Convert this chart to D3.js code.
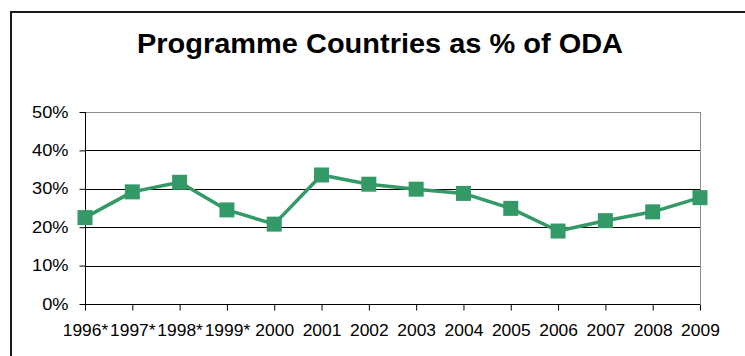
<!DOCTYPE html>
<html>
<head>
<meta charset="utf-8">
<script src="https://cdn.jsdelivr.net/npm/d3@7/dist/d3.min.js"></script>
<style>
  html, body { margin: 0; padding: 0; background: #fff; }
  svg { display: block; font-family: "Liberation Sans", Arial, sans-serif; }
</style>
</head>
<body>
<svg id="chart" width="745" height="356"></svg>
<script>
// Share of ODA going to programme countries, by year
const years = ["1996*", "1997*", "1998*", "1999*", "2000", "2001", "2002", "2003", "2004", "2005", "2006", "2007", "2008", "2009"];
const shares = [22.5, 29.2, 31.7, 24.5, 20.8, 33.6, 31.2, 29.9, 28.8, 24.9, 19.0, 21.7, 24.0, 27.7];
const yTicks = [0, 10, 20, 30, 40, 50];

const svg = d3.select("#chart");
const W = 745, H = 356;
const plot = { left: 85, right: 700, top: 112, bottom: 304 };
const green = "#339966";
const fontFamily = "'Liberation Sans', Arial, sans-serif";
const stretchY = 1.14;   // axis labels are set slightly wide
const stretchX = 1.09;

// Frame around the chart area (left and top edges)
svg.append("path")
  .attr("d", `M11,${H} V12 H${W}`)
  .attr("fill", "none")
  .attr("stroke", "#1a1a1a")
  .attr("stroke-width", 2);

// Title
svg.append("text")
  .attr("x", 137)
  .attr("y", 53)
  .attr("font-size", 27)
  .attr("font-weight", "bold")
  .attr("font-family", fontFamily)
  .attr("textLength", 486)
  .attr("lengthAdjust", "spacingAndGlyphs")
  .attr("fill", "#000")
  .text("Programme Countries as % of ODA");

const x = d3.scalePoint().domain(years).range([plot.left, plot.right]);
const y = d3.scaleLinear().domain([0, 50]).range([plot.bottom, plot.top]);

// Horizontal gridlines
svg.append("g")
  .selectAll("line")
  .data(yTicks.filter(d => d > 0))
  .join("line")
  .attr("x1", plot.left)
  .attr("x2", plot.right)
  .attr("y1", d => Math.round(y(d)) + 0.5)
  .attr("y2", d => Math.round(y(d)) + 0.5)
  .attr("stroke", d => d === 50 ? "#8c8c8c" : "#000")
  .attr("stroke-width", 1);

// Right edge of plot area
svg.append("line")
  .attr("x1", plot.right + 0.5).attr("x2", plot.right + 0.5)
  .attr("y1", plot.top).attr("y2", plot.bottom)
  .attr("stroke", "#8c8c8c");

// Y axis
const yAxis = svg.append("g")
  .attr("transform", `translate(${plot.left + 0.5},0)`)
  .call(d3.axisLeft(y).tickValues(yTicks).tickFormat(d => d + "%").tickSize(6));
yAxis.select(".domain").attr("stroke", "#000").attr("d", `M0,${plot.top}V${plot.bottom}`);
yAxis.selectAll("line").attr("stroke", "#000");
yAxis.selectAll("text")
  .attr("font-size", 16)
  .attr("font-family", fontFamily)
  .attr("fill", "#000")
  .attr("x", -17 / stretchY)
  .attr("transform", `scale(${stretchY},1)`);

// X axis
const xAxis = svg.append("g")
  .attr("transform", `translate(0,${Math.round(plot.bottom) + 0.5})`)
  .call(d3.axisBottom(x).tickSize(6));
xAxis.select(".domain").attr("stroke", "#000").attr("d", `M${plot.left},0H${plot.right}`);
xAxis.selectAll("line").attr("stroke", "#000");
xAxis.selectAll("text")
  .attr("font-size", 16)
  .attr("font-family", fontFamily)
  .attr("fill", "#000")
  .attr("y", 32)
  .attr("dy", 0)
  .attr("transform", `scale(${stretchX},1)`);

// Series line
svg.append("path")
  .datum(shares)
  .attr("fill", "none")
  .attr("stroke", green)
  .attr("stroke-width", 3.5)
  .attr("stroke-linejoin", "round")
  .attr("d", d3.line().x((d, i) => x(years[i])).y(d => y(d)));

// Square markers
const m = 15;
svg.append("g")
  .selectAll("rect")
  .data(shares)
  .join("rect")
  .attr("x", (d, i) => x(years[i]) - m / 2)
  .attr("y", d => y(d) - m / 2)
  .attr("width", m)
  .attr("height", m)
  .attr("fill", green);
</script>
</body>
</html>
